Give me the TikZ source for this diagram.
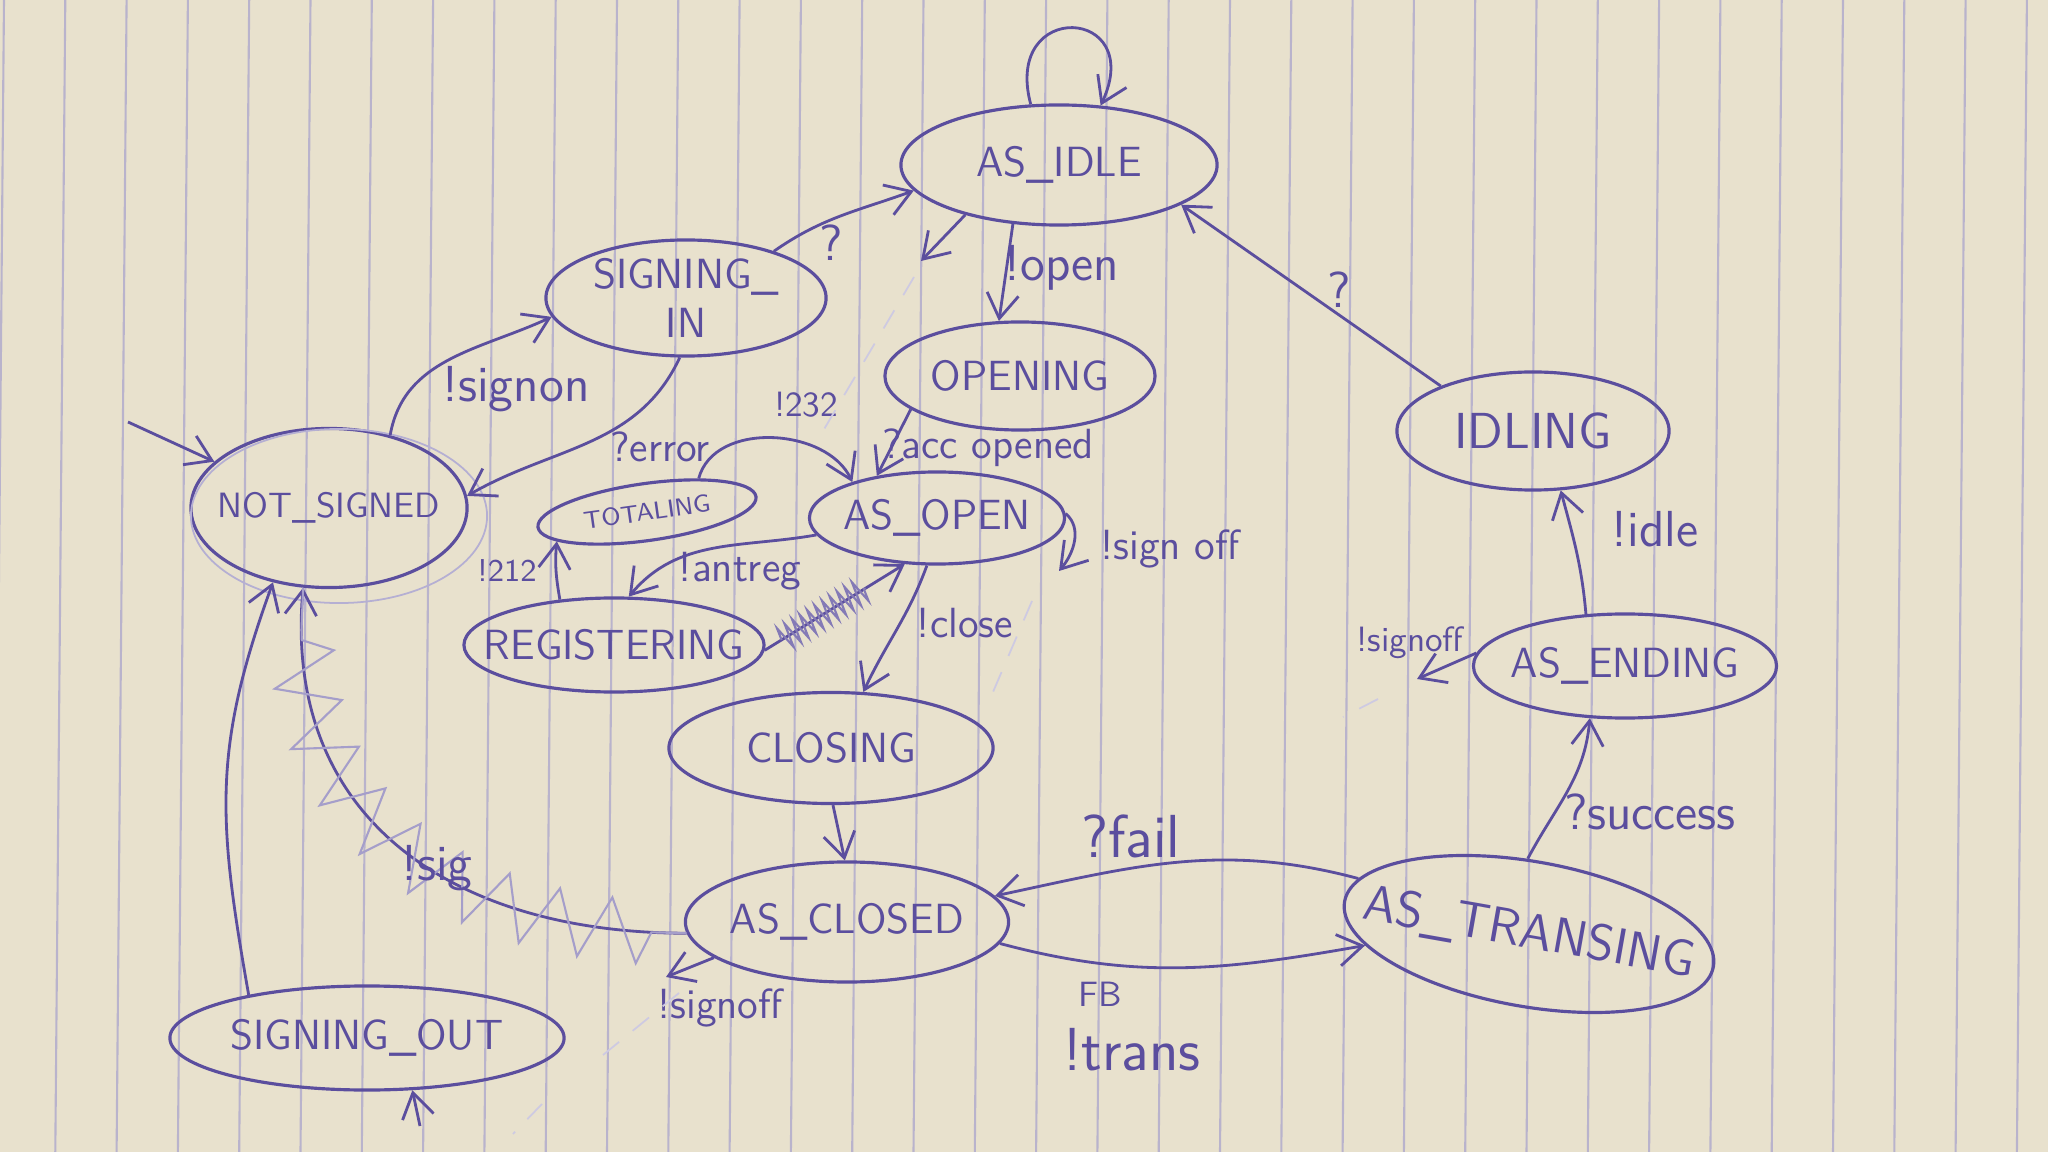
\documentclass[tikz,border=0pt]{standalone}
\usepackage{tikz}
\usetikzlibrary{arrows.meta, positioning, shapes.geometric, calc, decorations.pathmorphing}
\definecolor{paper}{HTML}{E8E1CD}
\definecolor{ink}{HTML}{5B4E9E}
\definecolor{ruling}{HTML}{B9B3CC}
\tikzset{
  state/.style={ellipse, draw=ink, line width=0.9pt, inner sep=0pt, inner xsep=-7pt,
                text=ink, font=\sffamily\large},
  lbl/.style={text=ink, font=\sffamily\large, inner sep=1pt},
  move/.style={draw=ink, line width=0.8pt, -{Straight Barb[length=7pt, width=9pt]}},
  pencil/.style={draw=ink!30, line width=0.5pt, dash pattern=on 6pt off 5pt},
  hatch/.style={draw=ink!75, line width=0.6pt, decorate,
                decoration={zigzag, amplitude=3.5pt, segment length=2.5pt}},
  scrawl/.style={draw=ink!55, line width=0.6pt, decorate,
                 decoration={zigzag, amplitude=9pt, segment length=16pt,
                             pre length=10pt, post length=12pt}},
}
\begin{document}
\begin{tikzpicture}[x=0.01cm, y=0.01cm]
  %% paper with its ruled lines
  \useasboundingbox (0,0) rectangle (2048,-1152);
  \fill[paper] (0,0) rectangle (2048,-1152);
  \foreach \i in {0,...,34}
    \draw[ruling, line width=0.6pt] ({4+61.3*\i},0) -- ({-6+61.3*\i},-1152);

  %% states
  \node[state, minimum width=3.16cm, minimum height=1.2cm] (idle) at (1059,-165) {AS\_IDLE};
  \node[state, minimum width=2.8cm, minimum height=1.16cm, align=center] (sigin) at (686,-298) {SIGNING\_\\IN};
  \node[state, minimum width=2.7cm, minimum height=1.08cm] (opening) at (1020,-376) {OPENING};
  \node[state, minimum width=2.72cm, minimum height=1.18cm, font=\sffamily\Large] (idling) at (1533,-431) {IDLING};
  \node[state, minimum width=2.76cm, minimum height=1.59cm, font=\sffamily\normalsize] (nsig) at (329,-508) {NOT\_SIGNED};
  \node[state, minimum width=2.2cm, minimum height=0.57cm, rotate=8, font=\sffamily\scriptsize] (total) at (647,-512) {TOTALING};
  \node[state, minimum width=2.55cm, minimum height=0.92cm] (asopen) at (937,-518) {AS\_OPEN};
  \node[state, minimum width=3.0cm, minimum height=0.94cm] (regist) at (614,-645) {REGISTERING};
  \node[state, minimum width=3.24cm, minimum height=1.11cm] (closing) at (831,-748) {CLOSING};
  \node[state, minimum width=3.03cm, minimum height=1.04cm] (ending) at (1625,-666) {AS\_ENDING};
  \node[state, minimum width=3.23cm, minimum height=1.2cm] (closed) at (847,-922) {AS\_CLOSED};
  \node[state, minimum width=3.73cm, minimum height=1.45cm, inner xsep=-10pt, rotate=-10, font=\sffamily\Large] (trans) at (1529,-934) {AS\_TRANSING};
  \node[state, minimum width=3.94cm, minimum height=1.04cm] (sigout) at (367,-1038) {SIGNING\_OUT};
  % second, fainter outline round NOT_SIGNED
  \draw[ink!45, line width=0.5pt] ($(nsig.center)+(10,-8)$) ellipse [x radius=1.48cm, y radius=0.87cm];

  %% transitions
  \coordinate (entry) at (128,-422);
  \draw[move] (entry) -- (nsig.158);
  \draw[move] (nsig.50) to[out=80, in=205] (sigin.188);
  \draw[move] (sigin.28) to[out=35, in=200] (idle.190);
  \draw[move] (sigin.264) to[out=245, in=30] (nsig.5);
  \draw[move] (idle.115) to[out=105, in=65, looseness=4] (idle.55);
  \coordinate (idlestub) at (921,-261);
  \draw[move] (idle.208) -- (idlestub);
  \draw[move] (idle.232) -- (opening.111);
  \draw[move] (opening.197) -- (asopen.145);
  \draw[move] (total.25) to[out=75, in=115] (asopen.157);
  \draw[move] (asopen.188) to[out=190, in=50] (regist.73);
  \draw[move] (regist.140) to[out=100, in=265] (total.190);
  % struck out: REGISTERING -> AS_OPEN
  \draw[move] (regist.358) -- (asopen.235);
  \draw[hatch] ($(regist.358)!0.12!(asopen.235)$) -- ($(regist.358)!0.72!(asopen.235)$);
  \coordinate (openstub) at (1059,-571);
  \draw[move] (asopen.2) to[out=-40, in=50] (openstub);
  \draw[move] (asopen.258) to[out=250, in=65] (closing.60);
  \draw[move] (closing.272) -- (closed.92);
  \draw[move] (closed.352) to[out=-15, in=190] (trans.194);
  \draw[move] (trans.172) to[out=165, in=12] (closed.10);
  \draw[move] (trans.101) to[out=62, in=265] (ending.236);
  \draw[move] (ending.127) to[out=95, in=285] (idling.295);
  \draw[move] (idling.154) -- (idle.342);
  \coordinate (endstub) at (1417,-679);
  \draw[move] (ending.175) -- (endstub);
  \coordinate (closestub) at (666,-977);
  \draw[move] (closed.195) -- (closestub);
  % struck out: AS_CLOSED -> NOT_SIGNED
  \draw[move, postaction={scrawl, arrows=-}] (closed.184) to[out=180, in=265, looseness=1.15] (nsig.252);
  \draw[move] (sigout.160) to[out=100, in=250, looseness=1.1] (nsig.233);
  \coordinate (outstub) at (420,-1126);
  \draw[move] (outstub) -- (sigout.311);

  %% labels
  \node[lbl, font=\sffamily\Large] (l-signon) at (516,-389) {!signon};
  \node[lbl, font=\sffamily\Large] (l-q1) at (831,-243) {?};
  \node[lbl] (l-error) at (660,-447) {?error};
  \node[lbl, font=\sffamily\Large] (l-open) at (1062,-268) {!open};
  \node[lbl, font=\sffamily\normalsize] (l-232) at (806,-405) {!232};
  \node[lbl] (l-acc) at (988,-448) {?acc opened};
  \node[lbl, font=\sffamily\small] (l-212) at (507,-571) {!212};
  \node[lbl] (l-antreg) at (740,-571) {!antreg};
  \node[lbl] (l-signoffa) at (1170,-549) {!sign off};
  \node[lbl] (l-close) at (965,-623) {!close};
  \node[lbl, font=\sffamily\normalsize] (l-signoffb) at (1410,-643) {!signoff};
  \node[lbl, font=\sffamily\Large] (l-q2) at (1339,-290) {?};
  \node[lbl, font=\sffamily\Large] (l-idle) at (1655,-529) {!idle};
  \node[lbl, font=\sffamily\Large] (l-success) at (1650,-812) {?success};
  \node[lbl, font=\sffamily\LARGE] (l-fail) at (1131,-836) {?fail};
  \node[lbl, font=\sffamily\normalsize] (l-fb) at (1100,-994) {FB};
  \node[lbl, font=\sffamily\LARGE] (l-trans) at (1132,-1050) {!trans};
  \node[lbl] (l-signoffc) at (720,-1008) {!signoff};
  \node[lbl, font=\sffamily\Large] (l-sig) at (437,-868) {!sig};

  %% faint pencil marks
  \draw[pencil] (914,-277) -- (823,-431);
  \draw[pencil] (1032,-601) -- (993,-692);
  \draw[pencil] (1378,-699) -- (1343,-717);
  \draw[pencil] (679,-993) -- (603,-1055);
  \draw[pencil] (542,-1104) -- (513,-1134);
\end{tikzpicture}
\end{document}
